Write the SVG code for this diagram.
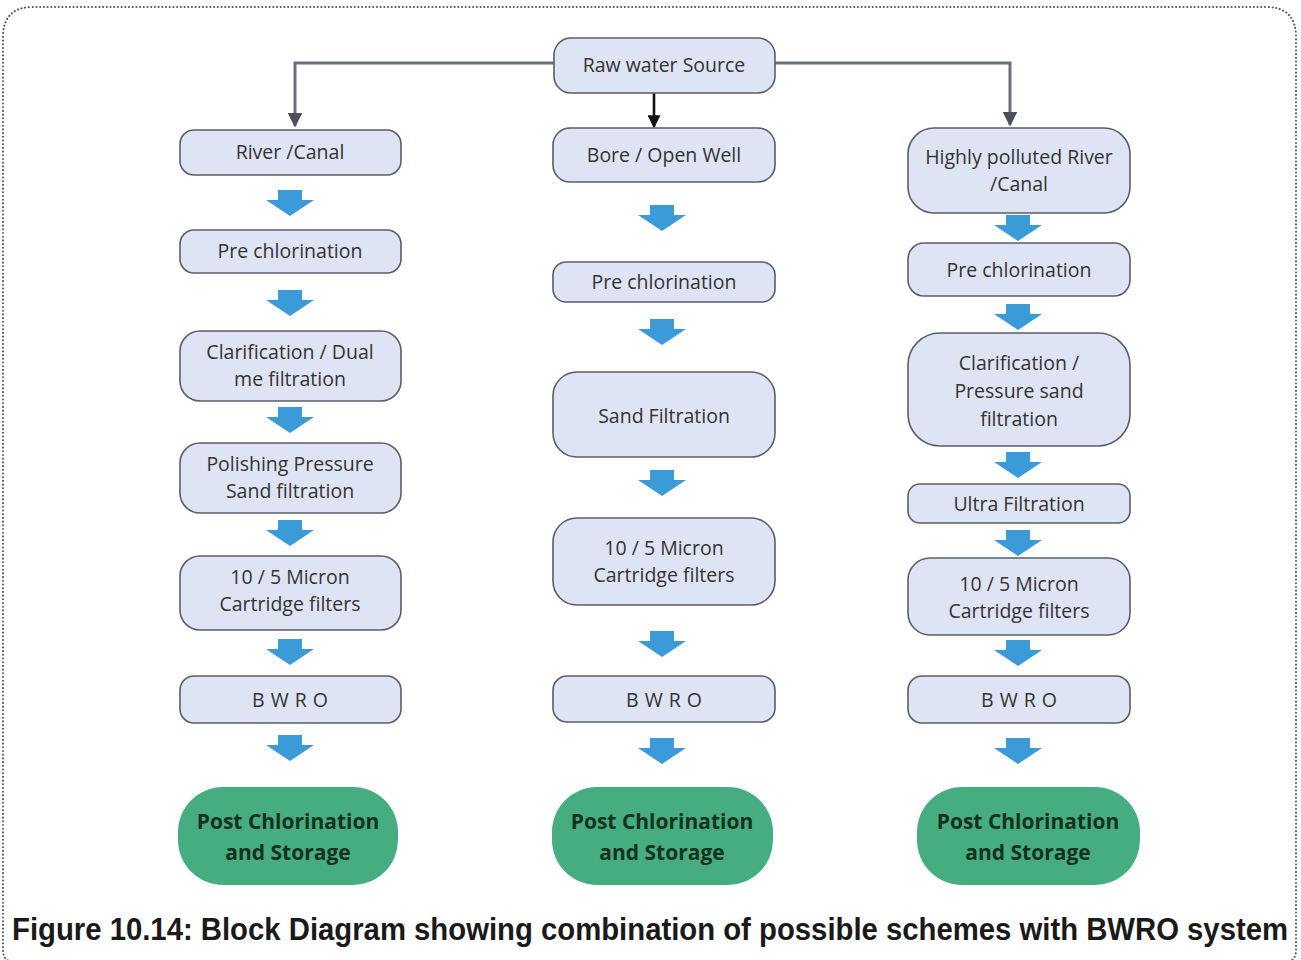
<svg xmlns="http://www.w3.org/2000/svg" xmlns:xlink="http://www.w3.org/1999/xlink" width="1301" height="960" viewBox="0 0 1301 960">
  <defs>
    <style>
      .frame { fill: none; stroke: #555; stroke-width: 2; stroke-dasharray: 0.1 3.6; stroke-linecap: round; }
      .box { fill: #dfe4f5; stroke: #5a5e66; stroke-width: 1.6; }
      .end { fill: #45ad80; stroke: none; }
      .lbl { font-family: "Open Sans", "Liberation Sans", sans-serif; font-size: 19.5px; fill: #333; text-anchor: middle; }
      .endlbl { font-family: "Open Sans", "Liberation Sans", sans-serif; font-size: 21px; font-weight: bold; fill: #17311f; text-anchor: middle; }
      .flow { fill: #3b9bd9; }
      .link { fill: none; stroke: #6a6f7c; stroke-width: 3; }
      .caption { font-family: "Liberation Sans", Arial, sans-serif; font-size: 31px; font-weight: bold; fill: #1a1a1a; }
    </style>
    <path id="blk" class="flow" d="M-12,0 H12 V10 H24 L0,26 L-24,10 H-12 Z"/>
    <marker id="head" viewBox="0 0 10 10" refX="9" refY="5" markerWidth="5" markerHeight="5" orient="auto" markerUnits="strokeWidth">
      <path d="M0,0 L10,5 L0,10 Z" fill="#4a4f5c"/>
    </marker>
    <marker id="headk" viewBox="0 0 10 10" refX="9" refY="5" markerWidth="5" markerHeight="5" orient="auto" markerUnits="strokeWidth">
      <path d="M0,0 L10,5 L0,10 Z" fill="#111"/>
    </marker>
  </defs>

  <rect width="1301" height="960" fill="#fff"/>
  <!-- dotted page frame; bottom edge runs just past the sheet -->
  <path class="frame" d="M15,962 Q3,962 3,950 V37 Q3,7 33,7 H1266 Q1296,7 1296,37 V950 Q1296,962 1284,962 Z"/>

  <!-- source links and flow arrows -->
  <g id="connectors">
    <path class="link" d="M554,63 H295 V126" marker-end="url(#head)"/>
    <path class="link" d="M775,63 H1010 V125" marker-end="url(#head)"/>
    <path d="M654,93 V127" fill="none" stroke="#111" stroke-width="2.6" marker-end="url(#headk)"/>
    <!-- left column flow arrows -->
    <use xlink:href="#blk" x="290" y="190"/>
    <use xlink:href="#blk" x="290" y="290"/>
    <use xlink:href="#blk" x="290" y="407"/>
    <use xlink:href="#blk" x="290" y="520"/>
    <use xlink:href="#blk" x="290" y="639"/>
    <use xlink:href="#blk" x="290" y="735"/>
    <!-- middle column flow arrows -->
    <use xlink:href="#blk" x="662" y="205"/>
    <use xlink:href="#blk" x="662" y="319"/>
    <use xlink:href="#blk" x="662" y="470"/>
    <use xlink:href="#blk" x="662" y="631"/>
    <use xlink:href="#blk" x="662" y="738"/>
    <!-- right column flow arrows -->
    <use xlink:href="#blk" x="1018" y="215"/>
    <use xlink:href="#blk" x="1018" y="304"/>
    <use xlink:href="#blk" x="1018" y="452"/>
    <use xlink:href="#blk" x="1018" y="530"/>
    <use xlink:href="#blk" x="1018" y="640"/>
    <use xlink:href="#blk" x="1018" y="738"/>
  </g>

  <!-- source -->
  <g id="raw-water-source">
    <rect class="box" x="554" y="38" width="221" height="55" rx="17"/>
    <text class="lbl" x="664" y="72">Raw water Source</text>
  </g>

  <!-- left column -->
  <g id="river-canal">
    <rect class="box" x="180" y="130" width="221" height="45" rx="14"/>
    <text class="lbl" x="290" y="159">River /Canal</text>
  </g>
  <g id="pre-chlorination-1">
    <rect class="box" x="180" y="230" width="221" height="43" rx="14"/>
    <text class="lbl" x="290" y="258">Pre chlorination</text>
  </g>
  <g id="clarification-dual">
    <rect class="box" x="180" y="331" width="221" height="70" rx="20"/>
    <text class="lbl" x="290" y="359">Clarification / Dual</text>
    <text class="lbl" x="290" y="386">me filtration</text>
  </g>
  <g id="polishing-psf">
    <rect class="box" x="180" y="443" width="221" height="70" rx="20"/>
    <text class="lbl" x="290" y="471">Polishing Pressure</text>
    <text class="lbl" x="290" y="498">Sand filtration</text>
  </g>
  <g id="cartridge-1">
    <rect class="box" x="180" y="556" width="221" height="74" rx="20"/>
    <text class="lbl" x="290" y="584">10 / 5 Micron</text>
    <text class="lbl" x="290" y="611">Cartridge filters</text>
  </g>
  <g id="bwro-1">
    <rect class="box" x="180" y="676" width="221" height="47" rx="14"/>
    <text class="lbl" x="293" y="707" letter-spacing="6">BWRO</text>
  </g>
  <g id="post-1">
    <rect class="end" x="178" y="787" width="220" height="98" rx="45"/>
    <text class="endlbl" x="288" y="829">Post Chlorination</text>
    <text class="endlbl" x="288" y="860">and Storage</text>
  </g>

  <!-- middle column -->
  <g id="bore-well">
    <rect class="box" x="553" y="128" width="222" height="54" rx="17"/>
    <text class="lbl" x="664" y="162">Bore / Open Well</text>
  </g>
  <g id="pre-chlorination-2">
    <rect class="box" x="553" y="262" width="222" height="40" rx="13"/>
    <text class="lbl" x="664" y="289">Pre chlorination</text>
  </g>
  <g id="sand-filtration">
    <rect class="box" x="553" y="372" width="222" height="85" rx="24"/>
    <text class="lbl" x="664" y="423">Sand Filtration</text>
  </g>
  <g id="cartridge-2">
    <rect class="box" x="553" y="518" width="222" height="87" rx="24"/>
    <text class="lbl" x="664" y="555">10 / 5 Micron</text>
    <text class="lbl" x="664" y="582">Cartridge filters</text>
  </g>
  <g id="bwro-2">
    <rect class="box" x="553" y="676" width="222" height="46" rx="14"/>
    <text class="lbl" x="667" y="707" letter-spacing="6">BWRO</text>
  </g>
  <g id="post-2">
    <rect class="end" x="552" y="787" width="221" height="98" rx="45"/>
    <text class="endlbl" x="662" y="829">Post Chlorination</text>
    <text class="endlbl" x="662" y="860">and Storage</text>
  </g>

  <!-- right column -->
  <g id="polluted-river">
    <rect class="box" x="908" y="128" width="222" height="85" rx="26"/>
    <text class="lbl" x="1019" y="164">Highly polluted River</text>
    <text class="lbl" x="1019" y="191">/Canal</text>
  </g>
  <g id="pre-chlorination-3">
    <rect class="box" x="908" y="243" width="222" height="53" rx="16"/>
    <text class="lbl" x="1019" y="277">Pre chlorination</text>
  </g>
  <g id="clarification-psf">
    <rect class="box" x="908" y="333" width="222" height="113" rx="32"/>
    <text class="lbl" x="1019" y="370">Clarification /</text>
    <text class="lbl" x="1019" y="398">Pressure sand</text>
    <text class="lbl" x="1019" y="426">filtration</text>
  </g>
  <g id="ultra-filtration">
    <rect class="box" x="908" y="484" width="222" height="39" rx="12"/>
    <text class="lbl" x="1019" y="511">Ultra Filtration</text>
  </g>
  <g id="cartridge-3">
    <rect class="box" x="908" y="558" width="222" height="77" rx="22"/>
    <text class="lbl" x="1019" y="591">10 / 5 Micron</text>
    <text class="lbl" x="1019" y="618">Cartridge filters</text>
  </g>
  <g id="bwro-3">
    <rect class="box" x="908" y="676" width="222" height="47" rx="14"/>
    <text class="lbl" x="1022" y="707" letter-spacing="6">BWRO</text>
  </g>
  <g id="post-3">
    <rect class="end" x="917" y="787" width="223" height="98" rx="45"/>
    <text class="endlbl" x="1028" y="829">Post Chlorination</text>
    <text class="endlbl" x="1028" y="860">and Storage</text>
  </g>

  <!-- caption, set slightly condensed -->
  <text class="caption" transform="translate(12,940) scale(0.92,1)" x="0" y="0" textLength="1387" lengthAdjust="spacingAndGlyphs">Figure 10.14: Block Diagram showing combination of possible schemes with BWRO system</text>
</svg>
